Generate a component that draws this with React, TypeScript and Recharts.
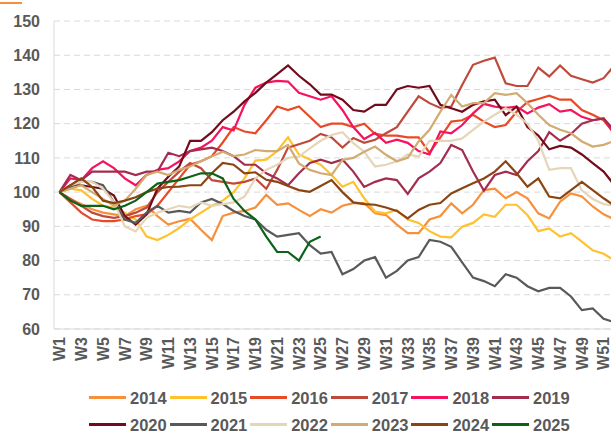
import { LineChart, Line, XAxis, YAxis, CartesianGrid, Legend } from "recharts";

const weeks = [
  "W1", "W2", "W3", "W4", "W5", "W6", "W7", "W8", "W9", "W10",
  "W11", "W12", "W13", "W14", "W15", "W16", "W17", "W18", "W19", "W20",
  "W21", "W22", "W23", "W24", "W25", "W26", "W27", "W28", "W29", "W30",
  "W31", "W32", "W33", "W34", "W35", "W36", "W37", "W38", "W39", "W40",
  "W41", "W42", "W43", "W44", "W45", "W46", "W47", "W48", "W49", "W50",
  "W51", "W52",
];

const yTicks = [60, 70, 80, 90, 100, 110, 120, 130, 140, 150];

const y2014 = [100, 98, 96.5, 95, 94, 93.5, 93, 95, 96, 93, 90.5, 91.5, 92.2, 89, 86, 93, 94, 94.5, 95.5, 99.2, 96.3, 96.7, 94.8, 93, 95, 94, 96, 96.8, 96.8, 93.8, 93.3, 90.5, 88, 88, 92, 93, 96.7, 93.8, 96.3, 100.6, 101, 98.2, 100, 98.2, 93.8, 92.3, 97.2, 99.6, 98.7, 95.8, 93.5, 92];
const y2015 = [100, 101, 100.5, 98, 96, 95.5, 94, 92, 87, 86, 87.5, 89.5, 92, 94, 96, 97.5, 100, 104, 109.2, 109.5, 112, 116, 111, 109.5, 108, 105, 101.6, 103, 98.2, 94.3, 93.8, 94.8, 92, 91, 88.6, 87, 86.8, 89.9, 91, 93.5, 92.8, 96.3, 96.3, 93.3, 88.6, 89.4, 87, 88, 85.5, 83, 82, 80];
const y2016 = [100, 97, 94, 92, 91.5, 91.5, 92, 93, 93.5, 96, 100, 104, 108, 109, 110.5, 114.5, 119, 117.7, 117.2, 121, 125, 124, 125, 122, 119, 120, 120, 119, 120, 117, 116.5, 116.5, 116, 116, 111.5, 116, 120.6, 121, 122.6, 120.6, 119, 119.6, 123.5, 126.3, 127.2, 128.2, 127, 127, 124, 122.6, 121, 117];
const y2017 = [100, 98, 96, 94, 93, 92.5, 93, 94, 95.5, 100, 103, 106, 108.5, 107, 103.5, 103, 102.5, 103, 104, 101, 106.5, 113, 114, 115, 117, 116, 113, 115.8, 114.4, 115.3, 117.2, 119, 123.5, 128, 126, 124.6, 125, 131.3, 137.2, 138.4, 139.3, 131.8, 131, 131, 136.4, 133.8, 137, 134, 133, 132, 133.3, 137];
const y2018 = [100, 104, 103.5, 107, 109, 107, 104, 102, 105, 106.5, 107, 109, 112, 113, 115, 119, 118, 125.5, 130.5, 132, 132.5, 132.3, 129, 128, 127, 128, 124, 119, 115.5, 117.3, 114.4, 115.3, 114.4, 112, 111, 117.7, 117.2, 119.6, 123, 125.8, 125, 124.6, 125, 123, 124.7, 125.7, 123.5, 124, 122, 121, 121.5, 117];
const y2019 = [100, 105, 103.5, 106, 106, 106, 106, 105, 106, 106, 111.5, 110.5, 112, 112.5, 113, 112, 110.5, 108, 108, 105.5, 104, 102, 105.5, 108.5, 109.5, 108.5, 109.5, 106, 101.5, 103, 104, 103.5, 99.5, 104, 106, 108.5, 113.8, 112.3, 106, 100.4, 105, 106, 105, 109, 112, 117.5, 115, 117, 120, 121, 121.5, 118];
const y2020 = [100, 102, 102, 101.5, 101, 99, 93, 90.5, 93.5, 101, 104.5, 107.5, 115, 115, 117.5, 121, 123.5, 126.5, 129, 132, 134.5, 137, 134, 131.5, 128.5, 128.5, 127, 124, 123.5, 125.5, 125.5, 130, 131, 130.5, 131, 125.5, 124.5, 123.5, 125.5, 126.5, 127, 122.5, 125, 119, 116.5, 112.5, 113.5, 113, 111, 108.5, 106, 102];
const y2021 = [100, 101.5, 103, 103, 102, 97, 92, 91, 94, 96, 94, 94.5, 94, 97, 98, 96.5, 94.5, 93, 92, 89, 87, 87.5, 88, 84.5, 82, 82.5, 76, 77.5, 80, 81, 75, 77, 80, 81, 86, 85.5, 84, 79.5, 75, 74, 72.5, 76, 75, 72.5, 71, 72, 72, 69.5, 65.5, 66, 63, 62];
const y2022 = [100, 102, 103, 103, 101, 97, 90, 88.5, 92.5, 94, 95, 96, 95.5, 97, 96, 96.5, 97, 98.7, 104, 106.5, 108, 110, 110.4, 112.8, 115, 116.7, 117.5, 114.3, 111.8, 107.5, 108, 109, 111, 110.4, 115, 115, 115, 115.7, 118.2, 120.6, 122.6, 124.5, 122.6, 120, 115, 106.5, 107, 107, 100.5, 98, 96.5, 96];
const y2023 = [100, 101, 102, 100, 98, 96, 97.5, 101, 105, 106, 105, 106.5, 107.5, 109, 110.4, 111.8, 110.5, 111, 112.3, 112, 112, 113.8, 108.4, 106.5, 105.5, 105, 109.4, 110, 111.8, 113.3, 110.9, 109, 110, 114.8, 118.2, 123.5, 128.4, 125, 126, 126, 128.9, 128.4, 128.9, 126, 122.6, 119.6, 118.2, 117.2, 114.8, 113.3, 113.8, 115];
const y2024 = [100, 102, 104, 101.5, 97.5, 96.8, 97.5, 98.5, 100, 101, 101.5, 101.6, 102, 102, 105.5, 108.5, 108, 105.5, 105.8, 103.6, 103, 101.8, 100.6, 100.1, 101.8, 103.5, 100, 97, 96.5, 96.3, 95.5, 94.5, 92.3, 94.8, 96.3, 96.8, 99.6, 101.1, 102.6, 104, 106, 109, 105.5, 101.6, 104, 98.7, 98.2, 100.6, 103, 100.6, 98.2, 96];
const y2025 = [100, 97.5, 96, 96, 96, 95, 96, 97.5, 100, 102.5, 103, 103.5, 104.5, 105.5, 105.5, 104, 98, 94.5, 92, 87, 82.5, 82.5, 80, 85.5, 87];

const years = ["2014", "2015", "2016", "2017", "2018", "2019", "2020", "2021", "2022", "2023", "2024", "2025"];
const values = [y2014, y2015, y2016, y2017, y2018, y2019, y2020, y2021, y2022, y2023, y2024, y2025];
const colors = [
  "#F7903A", "#FFC22E", "#E84A28", "#BF4A3C", "#F5125F", "#A32D4F",
  "#720B1C", "#595959", "#E5D6B8", "#D2AB72", "#8B4513", "#0B6318",
];

const data = weeks.map((w, i) => {
  const row: Record<string, string | number | undefined> = { week: w };
  years.forEach((y, j) => {
    row[y] = values[j][i];
  });
  return row;
});

const FONT = '"Liberation Sans", Arial, sans-serif';
const GREY = "#595959";

function WeekTick({ x, y, payload }: any) {
  return (
    <g transform={`translate(${x},${y})`}>
      <text
        transform="rotate(-90)"
        textAnchor="end"
        dy="0.36em"
        fill={GREY}
        fontSize={16}
        fontWeight="bold"
        fontFamily={FONT}
      >
        {payload.value}
      </text>
    </g>
  );
}

function LegendBox() {
  return (
    <div
      style={{
        paddingLeft: 89,
        paddingTop: 5,
        display: "flex",
        flexWrap: "wrap",
        width: 495,
        fontFamily: FONT,
      }}
    >
      {years.map((y, i) => (
        <div key={y} style={{ display: "flex", alignItems: "center", height: 27, width: 80.6 }}>
          <span style={{ display: "inline-block", width: 37, height: 2.5, background: colors[i], marginRight: 4 }} />
          <span style={{ fontSize: 16.5, lineHeight: "18px", fontWeight: "bold", color: GREY }}>{y}</span>
        </div>
      ))}
    </div>
  );
}

export default function App() {
  return (
    <div
      style={{
        position: "absolute",
        left: 0,
        top: 0,
        width: 611,
        height: 435,
        overflow: "hidden",
        background: "#fff",
      }}
    >
      <div style={{ position: "absolute", left: 0, top: 2, width: 22, height: 2, background: "#F7903A" }} />
      <LineChart width={625} height={435} data={data} margin={{ top: 21, right: 5, bottom: 0, left: 0 }}>
        <CartesianGrid vertical={false} stroke="#D9D9D9" strokeDasharray="6 4" />
        <XAxis
          dataKey="week"
          interval={1}
          tickLine={false}
          axisLine={{ stroke: "#D9D9D9" }}
          height={50}
          padding={{ left: 5.5, right: 5.5 }}
          tick={<WeekTick />}
        />
        <YAxis
          width={54}
          domain={[60, 150]}
          ticks={yTicks}
          tickLine={false}
          axisLine={{ stroke: "#D9D9D9" }}
          tickMargin={8}
          tick={{ fill: GREY, fontSize: 16, fontWeight: "bold", fontFamily: FONT }}
        />
        <Legend
          verticalAlign="bottom"
          height={56}
          content={<LegendBox />}
          wrapperStyle={{ left: 0, width: 625 }}
        />
        {years.map((y, i) => (
          <Line
            key={y}
            type="linear"
            dataKey={y}
            stroke={colors[i]}
            strokeWidth={2.2}
            dot={false}
            isAnimationActive={false}
          />
        ))}
      </LineChart>
    </div>
  );
}
